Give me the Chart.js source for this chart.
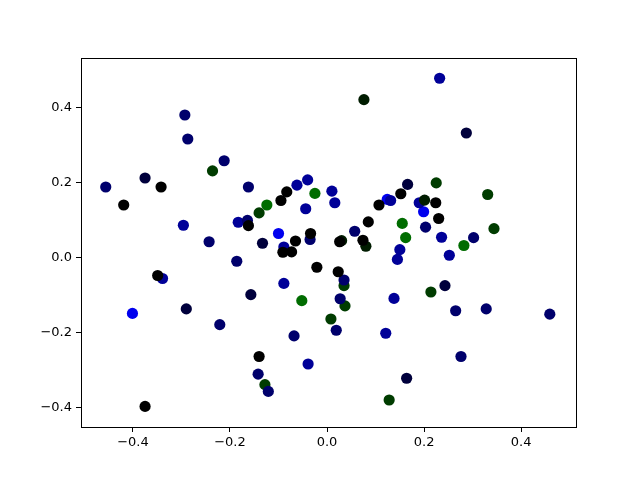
<!DOCTYPE html>
<html>
<head>
<meta charset="utf-8">
<script src="https://cdn.jsdelivr.net/npm/chart.js@4.4.0/dist/chart.umd.min.js"></script>
<style>
  html, body { margin: 0; padding: 0; background: #fff; }
  #scatter { display: block; }
</style>
</head>
<body>
<canvas id="scatter" width="640" height="480"></canvas>
<script>
// points, grouped by marker colour
const blackPts = [[-0.342, 0.187], [-0.419, 0.139], [-0.349, -0.049], [-0.083, 0.174], [-0.095, 0.151],
  [-0.162, 0.084], [-0.065, 0.043], [-0.034, 0.063], [-0.091, 0.013], [-0.073, 0.014], [-0.021, -0.027],
  [0.152, 0.169], [0.107, 0.139], [0.224, 0.145], [0.230, 0.103], [0.085, 0.094], [0.026, 0.041],
  [0.074, 0.045], [0.023, -0.039], [-0.375, -0.398], [-0.140, -0.265]];
const deepGreenPts = [[0.076, 0.420], [0.201, 0.152], [0.030, 0.044], [0.080, 0.029]];
const darkNavyPts = [[-0.375, 0.211], [0.287, 0.331], [-0.133, 0.037], [-0.157, -0.100], [0.166, 0.194],
  [0.243, -0.076], [-0.290, -0.138], [0.164, -0.323]];
const navyPts = [[-0.293, 0.379], [-0.287, 0.315], [-0.212, 0.257], [-0.456, 0.187], [-0.162, 0.187],
  [-0.164, 0.098], [-0.243, 0.041], [-0.035, 0.047], [-0.186, -0.011], [0.203, 0.080], [0.057, 0.069],
  [0.035, -0.061], [0.027, -0.111], [0.302, 0.052], [-0.221, -0.180], [-0.068, -0.210], [-0.142, -0.312],
  [-0.121, -0.358], [0.019, -0.195], [0.265, -0.143], [0.328, -0.138], [0.459, -0.152], [0.276, -0.265]];
const bluePts = [[0.232, 0.477], [-0.296, 0.085], [-0.339, -0.057], [-0.062, 0.192], [-0.040, 0.206],
  [-0.044, 0.129], [-0.183, 0.093], [-0.089, 0.027], [-0.089, -0.070], [0.010, 0.176], [0.016, 0.145],
  [0.131, 0.151], [0.190, 0.145], [0.236, 0.053], [0.252, 0.005], [0.150, 0.020], [0.145, -0.006],
  [0.138, -0.110], [-0.039, -0.285], [0.121, -0.203]];
const brightBluePts = [[-0.100, 0.063], [0.124, 0.154], [0.199, 0.121], [-0.401, -0.150]];
const darkGreenPts = [[-0.236, 0.230], [-0.140, 0.118], [0.225, 0.198], [0.035, -0.076], [0.214, -0.093],
  [0.037, -0.130], [0.331, 0.167], [0.344, 0.076], [0.008, -0.165], [-0.128, -0.340], [0.128, -0.381]];
const greenPts = [[-0.025, 0.170], [-0.124, 0.139], [-0.052, -0.116], [0.155, 0.090], [0.162, 0.052],
  [0.282, 0.031]];

const xTicks = [-0.4, -0.2, 0.0, 0.2, 0.4];
const yTicks = [-0.4, -0.2, 0.0, 0.2, 0.4];

function toXY(pts) {
  return pts.map(p => ({ x: p[0], y: p[1] }));
}

function fmt(v) {
  const s = Math.abs(v).toFixed(1);
  return v < -1e-9 ? '\u2212' + s : s;
}

const groups = [
  [blackPts, '#000000'],
  [deepGreenPts, '#001c00'],
  [darkNavyPts, '#00003c'],
  [navyPts, '#00006c'],
  [bluePts, '#000098'],
  [brightBluePts, '#0000ee'],
  [darkGreenPts, '#003c00'],
  [greenPts, '#006c00'],
];

// matplotlib style closed frame
const frame = {
  id: 'frame',
  afterDraw(chart) {
    const a = chart.chartArea;
    const ctx = chart.ctx;
    ctx.save();
    ctx.strokeStyle = '#000';
    ctx.lineWidth = 1;
    ctx.strokeRect(Math.round(a.left) + 0.5, Math.round(a.top) + 0.5,
      Math.round(a.right - a.left), Math.round(a.bottom - a.top));
    ctx.restore();
  }
};

Chart.defaults.font.family = 'DejaVu Sans';
Chart.defaults.font.size = 13;
Chart.defaults.color = '#000';

new Chart(document.getElementById('scatter'), {
  type: 'scatter',
  data: {
    datasets: groups.map(g => ({
      data: toXY(g[0]),
      backgroundColor: g[1],
      borderWidth: 0,
      pointRadius: 5.6,
      pointHoverRadius: 5.6,
    }))
  },
  options: {
    responsive: false,
    animation: false,
    devicePixelRatio: 1,
    layout: { padding: { top: 58, right: 64, left: 0, bottom: 0 } },
    plugins: {
      legend: { display: false },
      tooltip: { enabled: false }
    },
    scales: {
      x: {
        min: -0.507,
        max: 0.513,
        afterBuildTicks: s => { s.ticks = xTicks.map(v => ({ value: v })); },
        afterFit: s => { s.height = 53; },
        ticks: { callback: v => fmt(v), padding: 3, maxRotation: 0 },
        grid: { drawOnChartArea: false, drawTicks: true, tickLength: 5, color: '#000' },
        border: { display: true, color: '#000' }
      },
      y: {
        min: -0.453,
        max: 0.531,
        afterBuildTicks: s => { s.ticks = yTicks.map(v => ({ value: v })); },
        afterFit: s => { s.width = 81; },
        ticks: { callback: v => fmt(v), padding: 4 },
        grid: { drawOnChartArea: false, drawTicks: true, tickLength: 5, color: '#000' },
        border: { display: true, color: '#000' }
      }
    }
  },
  plugins: [frame]
});
</script>
</body>
</html>
